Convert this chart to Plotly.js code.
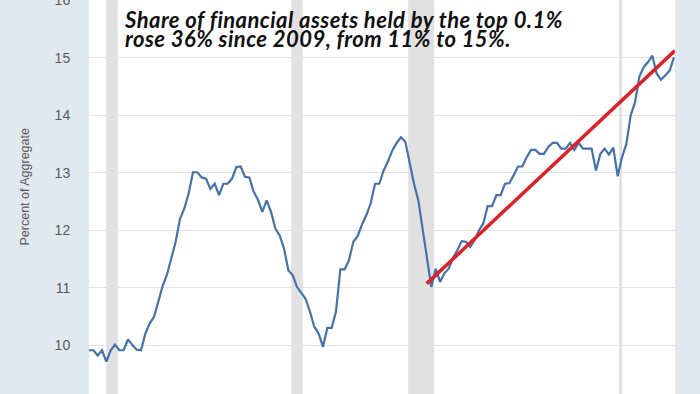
<!DOCTYPE html>
<html>
<head>
<meta charset="utf-8">
<script src="https://cdn.plot.ly/plotly-3.0.1.min.js"></script>
<style>
  html, body { margin: 0; padding: 0; background: #e1e9f0; }
  #chart { width: 700px; height: 394px; }
  .annotation-text.note-text { letter-spacing: 0.45px; }
</style>
</head>
<body>
<div id="chart"></div>
<script>
// Share of financial assets held by the top 0.1% (percent of aggregate), quarterly from 1989Q3
const firstQuarter = { year: 1989, month: 7 };
const share1989_1999 = [9.91, 9.91, 9.82, 9.91, 9.71, 9.91, 10.01, 9.91, 9.91, 10.10,
  10.00, 9.92, 9.91, 10.20, 10.38, 10.49, 10.76, 11.03, 11.23, 11.52,
  11.80, 12.20, 12.38, 12.64, 13.01, 13.01, 12.92, 12.90, 12.72, 12.81,
  12.61, 12.81, 12.81, 12.90, 13.10, 13.11, 12.93, 12.92, 12.67, 12.53,
  12.32, 12.52];
const share2000_2009 = [12.32, 12.03, 11.91, 11.68, 11.30, 11.22, 11.01, 10.91, 10.80, 10.58,
  10.32, 10.20, 9.97, 10.30, 10.30, 10.58, 11.32, 11.32, 11.48, 11.80,
  11.90, 12.10, 12.26, 12.47, 12.81, 12.81, 13.04, 13.20, 13.39, 13.52,
  13.62, 13.54, 13.16, 12.81, 12.52, 12.00, 11.54, 11.01, 11.33, 11.10];
const share2010_2019 = [11.25, 11.33, 11.52, 11.65, 11.81, 11.80, 11.71, 11.83, 12.00, 12.12,
  12.42, 12.42, 12.61, 12.61, 12.81, 12.82, 12.96, 13.11, 13.11, 13.27,
  13.40, 13.40, 13.33, 13.33, 13.45, 13.52, 13.52, 13.42, 13.42, 13.52,
  13.40, 13.52, 13.42, 13.42, 13.42, 13.04, 13.33, 13.42, 13.32, 13.44];
const share2020_2023 = [12.94, 13.27, 13.50, 14.00, 14.23, 14.67, 14.84, 14.93, 15.04, 14.73,
  14.62, 14.70, 14.78, 15.01];

// Red trend line drawn over the chart (from 2009 to latest)
const trendDates = ['2008-12-25', '2023-04-23'];
const trendValues = [11.07, 15.13];

// Recession periods (shaded)
const recessionStarts = ['1990-07-01', '2001-03-01', '2007-12-01', '2020-02-01'];
const recessionEnds   = ['1991-03-01', '2001-11-01', '2009-06-01', '2020-04-01'];

const yTickValues = [10, 11, 12, 13, 14, 15, 16];
const yTitle = 'Percent of Aggregate';
const noteLine1 = 'Share of financial assets held by the top 0.1%';
const noteLine2 = 'rose 36% since 2009, from 11% to 15%.';

const shareValues = share1989_1999.concat(share2000_2009, share2010_2019, share2020_2023);
const quarterDates = shareValues.map((v, k) => {
  const m0 = firstQuarter.month - 1 + 3 * k;
  const y = firstQuarter.year + Math.floor(m0 / 12);
  const m = (m0 % 12) + 1;
  return y + '-' + String(m).padStart(2, '0') + '-01';
});

const W = 700, H = 394, L = 89, R = 25, T = 0, B = 0;
const pw = W - L - R, ph = H - T - B;
const px2paperX = x => (x - L) / pw;
const px2paperY = y => 1 - (y - T) / ph;

const traces = [
  {
    x: quarterDates, y: shareValues, type: 'scatter', mode: 'lines',
    line: { color: '#4572a7', width: 2.2 }, hoverinfo: 'skip'
  },
  {
    x: trendDates, y: trendValues, type: 'scatter', mode: 'lines',
    line: { color: '#dc2228', width: 3.5 }, hoverinfo: 'skip'
  }
];

const shapes = recessionStarts.map((s, k) => ({
  type: 'rect', xref: 'x', yref: 'paper', x0: s, x1: recessionEnds[k], y0: 0, y1: 1,
  fillcolor: '#e1e1e1', line: { width: 0 }, layer: 'below'
}));

const annFont = { family: 'Lato, "Open Sans", sans-serif', size: 22, color: '#111111' };
const annotations = [
  { xref: 'paper', yref: 'paper', x: px2paperX(122), y: px2paperY(4), xanchor: 'left', yanchor: 'top',
    align: 'left',
    text: '<b><i>' + noteLine1 + '</i></b><br><b><i>' + noteLine2 + '</i></b>',
    showarrow: false, font: annFont },
  { xref: 'paper', yref: 'paper', x: px2paperX(24), y: px2paperY(187.5), xanchor: 'center', yanchor: 'middle',
    text: yTitle, textangle: -90, showarrow: false,
    font: { family: '"Liberation Sans", Arial, sans-serif', size: 12.5, color: '#595959' } }
];

const layout = {
  width: W, height: H,
  margin: { l: L, r: R, t: T, b: B, pad: 0 },
  paper_bgcolor: '#e1e9f0',
  plot_bgcolor: '#ffffff',
  showlegend: false,
  xaxis: {
    type: 'date', range: ['1989-07-01', '2023-04-23'],
    showgrid: false, zeroline: false, showline: false, showticklabels: false, ticks: ''
  },
  yaxis: {
    range: [9.148, 16.01], tickvals: yTickValues, ticktext: yTickValues.map(String),
    showgrid: true, gridcolor: '#e4e4e4', gridwidth: 1, zeroline: false, showline: false,
    ticks: 'outside', ticklen: 15, tickcolor: 'rgba(0,0,0,0)', ticklabeloverflow: 'allow',
    tickfont: { family: '"Liberation Sans", Arial, sans-serif', size: 14, color: '#595959' }
  },
  shapes: shapes,
  annotations: annotations
};

Plotly.newPlot('chart', traces, layout, { displayModeBar: false, staticPlot: true }).then(gd => {
  // tighten the two-line note to the reference's line spacing
  gd.querySelectorAll('.annotation-text').forEach(t => {
    const lines = t.querySelectorAll('tspan.line');
    if (lines.length === 2) {
      t.classList.add('note-text');
      lines[1].setAttribute('dy', '0.88em');
    }
  });
});
</script>
</body>
</html>
